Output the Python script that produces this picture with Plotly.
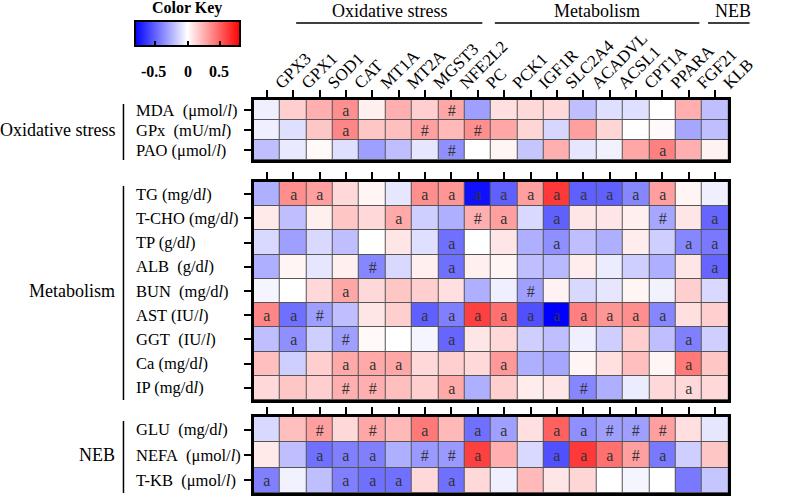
import plotly.graph_objects as go

genes = ["GPX3", "GPX1", "SOD1", "CAT", "MT1A", "MT2A", "MGST3", "NFE2L2", "PC",
         "PCK1", "IGF1R", "SLC2A4", "ACADVL", "ACSL1", "CPT1A", "PPARA", "FGF21", "KLB"]

NB = "\u00a0"
ox_rows = [f"MDA{NB}{NB}(μmol/<i>l</i>)", f"GPx{NB}{NB}(mU/m<i>l</i>)", "PAO (μmol/<i>l</i>)"]
ox_vals = [
    [-0.05, 0.15, 0.25, 0.35, 0.05, 0.25, 0.15, 0.28, -0.30, 0.10, 0.12, 0.12, -0.20, -0.10, -0.10, 0.00, 0.25, -0.20],
    [-0.05, -0.10, 0.18, 0.38, 0.18, 0.20, 0.30, 0.22, 0.35, 0.28, 0.13, -0.13, 0.30, 0.13, 0.00, 0.02, -0.28, -0.20],
    [-0.20, -0.07, 0.02, -0.10, -0.30, -0.20, -0.08, -0.35, 0.00, 0.03, -0.18, 0.25, -0.08, -0.04, 0.28, 0.40, 0.25, 0.04],
]
ox_marks = [
    ["", "", "", "a", "", "", "", "#", "", "", "", "", "", "", "", "", "", ""],
    ["", "", "", "a", "", "", "#", "", "#", "", "", "", "", "", "", "", "", ""],
    ["", "", "", "", "", "", "", "#", "", "", "", "", "", "", "", "a", "", ""],
]

met_rows = ["TG (mg/d<i>l</i>)", "T-CHO (mg/d<i>l</i>)", "TP (g/d<i>l</i>)", f"ALB{NB}{NB}(g/d<i>l</i>)",
            f"BUN{NB}{NB}(mg/d<i>l</i>)", "AST (IU/<i>l</i>)", f"GGT{NB}{NB}(IU/<i>l</i>)",
            "Ca (mg/d<i>l</i>)", "IP (mg/d<i>l</i>)"]
met_vals = [
    [-0.25, 0.35, 0.30, 0.12, 0.03, -0.08, 0.35, 0.33, -0.75, -0.50, 0.30, 0.62, -0.50, -0.50, -0.38, 0.30, 0.03, -0.05],
    [0.07, -0.20, 0.05, 0.18, 0.12, 0.27, -0.15, -0.25, 0.25, 0.30, -0.12, -0.50, 0.08, 0.08, 0.05, -0.28, 0.08, -0.48],
    [-0.12, -0.30, -0.12, -0.20, 0.00, 0.08, -0.10, -0.45, 0.00, 0.08, -0.25, -0.35, -0.20, -0.25, 0.06, -0.15, -0.38, -0.42],
    [-0.25, 0.03, -0.08, 0.05, -0.38, -0.12, 0.05, -0.45, 0.05, 0.03, -0.20, -0.22, 0.06, -0.06, -0.15, -0.25, 0.08, -0.48],
    [-0.03, 0.00, 0.12, 0.28, 0.12, 0.18, 0.15, 0.10, -0.25, -0.05, -0.30, 0.04, -0.12, -0.08, 0.03, -0.04, 0.15, -0.12],
    [0.38, -0.45, -0.30, -0.20, 0.08, 0.15, -0.50, -0.40, 0.60, 0.45, -0.55, -0.80, 0.40, 0.33, 0.35, -0.38, 0.10, 0.15],
    [-0.20, -0.35, -0.15, -0.30, 0.02, 0.00, -0.03, -0.48, 0.08, 0.12, -0.15, -0.20, -0.05, -0.15, 0.15, -0.20, -0.40, -0.15],
    [0.20, -0.15, 0.15, 0.27, 0.27, 0.28, 0.12, 0.15, 0.12, 0.32, -0.25, -0.28, 0.03, 0.10, 0.20, 0.03, 0.42, 0.18],
    [0.12, 0.18, 0.15, 0.25, 0.25, 0.20, 0.15, 0.27, -0.25, 0.15, 0.06, 0.08, -0.38, -0.25, -0.06, 0.12, 0.12, 0.12],
]
met_marks = [
    ["", "a", "a", "", "", "", "a", "a", "a", "a", "a", "a", "a", "a", "a", "a", "", ""],
    ["", "", "", "", "", "a", "", "", "#", "a", "", "a", "", "", "", "#", "", "a"],
    ["", "", "", "", "", "", "", "a", "", "", "", "a", "", "", "", "", "a", "a"],
    ["", "", "", "", "#", "", "", "a", "", "", "", "", "", "", "", "", "", "a"],
    ["", "", "", "a", "", "", "", "", "", "", "#", "", "", "", "", "", "", ""],
    ["a", "a", "#", "", "", "", "a", "a", "a", "a", "a", "a", "a", "a", "a", "a", "", ""],
    ["", "a", "", "#", "", "", "", "a", "", "", "", "", "", "", "", "", "a", ""],
    ["", "", "", "a", "a", "a", "", "", "", "a", "", "", "", "", "", "", "a", ""],
    ["", "", "", "#", "#", "", "", "a", "", "", "", "", "#", "", "", "", "a", ""],
]

neb_rows = [f"GLU{NB}{NB}(mg/d<i>l</i>)", f"NEFA{NB}{NB}(μmol/<i>l</i>)", f"T-KB{NB}{NB}(μmol/<i>l</i>)"]
neb_vals = [
    [-0.12, 0.20, 0.30, 0.12, 0.28, 0.22, 0.42, 0.22, -0.45, -0.30, 0.10, 0.50, -0.35, -0.30, -0.30, 0.30, 0.10, -0.08],
    [0.07, -0.20, -0.45, -0.40, -0.40, -0.25, -0.32, -0.32, 0.60, 0.25, -0.12, -0.55, 0.62, 0.45, 0.30, -0.42, -0.15, 0.18],
    [-0.40, -0.04, -0.20, -0.40, -0.45, -0.45, 0.12, -0.45, 0.12, -0.05, 0.22, 0.08, 0.13, 0.00, -0.03, 0.00, -0.42, -0.18],
]
neb_marks = [
    ["", "", "#", "", "#", "", "a", "", "a", "a", "", "a", "a", "#", "#", "#", "", ""],
    ["", "", "a", "a", "a", "", "#", "#", "a", "", "", "a", "a", "a", "#", "a", "", ""],
    ["a", "", "", "a", "a", "a", "", "a", "", "", "", "", "", "", "", "", "", ""],
]

group_names = ["Oxidative stress", "Metabolism", "NEB"]
key_ticks = [-0.5, 0, 0.5]
key_labels = ["-0.5", "0", "0.5"]

W, H = 792, 496
SERIF = "Liberation Serif"
cscale = [[0, "rgb(0,0,255)"], [0.5, "rgb(255,255,255)"], [1, "rgb(255,0,0)"]]

def py(p):
    return 1 - p / H

def px(p):
    return p / W

x0, x1 = 263, 755
panels = [
    (ox_rows, ox_vals, ox_marks, 100, 160),
    (met_rows, met_vals, met_marks, 182, 400),
    (neb_rows, neb_vals, neb_marks, 417, 493),
]

fig = go.Figure()
annotations = []
shapes = []

for i, (rows, vals, marks, top, bot) in enumerate(panels):
    n = i + 1
    xa = "x" if n == 1 else f"x{n}"
    ya = "y" if n == 1 else f"y{n}"
    tr = go.Heatmap(
        z=vals, x=genes, y=list(range(len(rows))), text=marks,
        texttemplate="%{text}",
        textfont=dict(family=SERIF, size=16, color="#333333"),
        colorscale=cscale, zmin=-0.8, zmax=0.8,
        xgap=1, ygap=1, xaxis=xa, yaxis=ya,
        showscale=(n == 1), hoverinfo="skip",
    )
    if n == 1:
        tr.colorbar = dict(
            orientation="h", x=px(194.5), xanchor="center", y=py(20.5), yanchor="top",
            len=105, lenmode="pixels", thickness=25, thicknessmode="pixels",
            outlinewidth=2, outlinecolor="black", xpad=0, ypad=0,
            tickvals=key_ticks, ticks="inside", ticklen=6, tickwidth=2, tickcolor="black",
            showticklabels=False,
        )
    fig.add_trace(tr)
    kx = "xaxis" if n == 1 else f"xaxis{n}"
    ky = "yaxis" if n == 1 else f"yaxis{n}"
    fig.layout[kx] = dict(
        domain=[px(x0), px(x1)], anchor=ya, side="top", type="category",
        ticks="outside", ticklen=7, tickwidth=2, tickcolor="black",
        showticklabels=(n == 1), tickangle=-45,
        ticklabelstandoff=-9, ticklabelshift=9,
        tickfont=dict(family=SERIF, size=17, color="black"),
        showline=True, linewidth=3, linecolor="black", mirror=True,
        showgrid=False, zeroline=False, fixedrange=True,
    )
    fig.layout[ky] = dict(
        domain=[py(bot), py(top)], anchor=xa,
        range=[len(rows) - 0.5, -0.5],
        ticks="outside", ticklen=7, tickwidth=2, tickcolor="black",
        tickvals=list(range(len(rows))), showticklabels=False,
        showline=True, linewidth=3, linecolor="black", mirror=True,
        showgrid=False, zeroline=False, fixedrange=True,
    )
    rh = (bot - top) / len(rows)
    for j, r in enumerate(rows):
        annotations.append(dict(
            text=r, x=px(139), y=py(top + rh * (j + 0.5)), xref="paper", yref="paper",
            xanchor="left", yanchor="middle", showarrow=False,
            font=dict(family=SERIF, size=16.5, color="black"),
        ))
    annotations.append(dict(
        text=group_names[i], x=px(121), y=py((top + bot) / 2), xref="paper", yref="paper",
        xanchor="right", yanchor="middle", showarrow=False,
        font=dict(family=SERIF, size=18, color="black"),
    ))
    shapes.append(dict(type="line", xref="paper", yref="paper",
                       x0=px(128), x1=px(128), y0=py(top + 4), y1=py(bot),
                       line=dict(color="black", width=1.5)))

for name, (a, b) in zip(group_names, [(307, 500), (513, 725), (734, 777)]):
    annotations.append(dict(
        text=name, x=px((a + b) / 2 + (0 if name != "NEB" else 4)), y=py(11),
        xref="paper", yref="paper", xanchor="center", yanchor="middle", showarrow=False,
        font=dict(family=SERIF, size=18, color="black"),
    ))
    shapes.append(dict(type="line", xref="paper", yref="paper",
                       x0=px(a), x1=px(b), y0=py(23), y1=py(23),
                       line=dict(color="black", width=1.5)))

annotations.append(dict(
    text="<b>Color Key</b>", x=px(194), y=py(8), xref="paper", yref="paper",
    xanchor="center", yanchor="middle", showarrow=False,
    font=dict(family=SERIF, size=16, color="black"),
))
for t, lab in zip(key_ticks, key_labels):
    cx = 194.5 + t / 0.8 * 52.5
    annotations.append(dict(
        text=f"<b>{lab}</b>", x=px(cx - (3 if lab.startswith("-") else 0)), y=py(71),
        xref="paper", yref="paper", xanchor="center", yanchor="middle", showarrow=False,
        font=dict(family=SERIF, size=16, color="black"),
    ))

fig.update_layout(
    width=W, height=H, margin=dict(l=0, r=0, t=0, b=0),
    paper_bgcolor="white", plot_bgcolor="#555555",
    annotations=annotations, shapes=shapes, showlegend=False,
)

fig.write_html("out.html", config={"displayModeBar": False},
               post_script="document.body.style.margin='0px';document.body.style.overflow='hidden';")
